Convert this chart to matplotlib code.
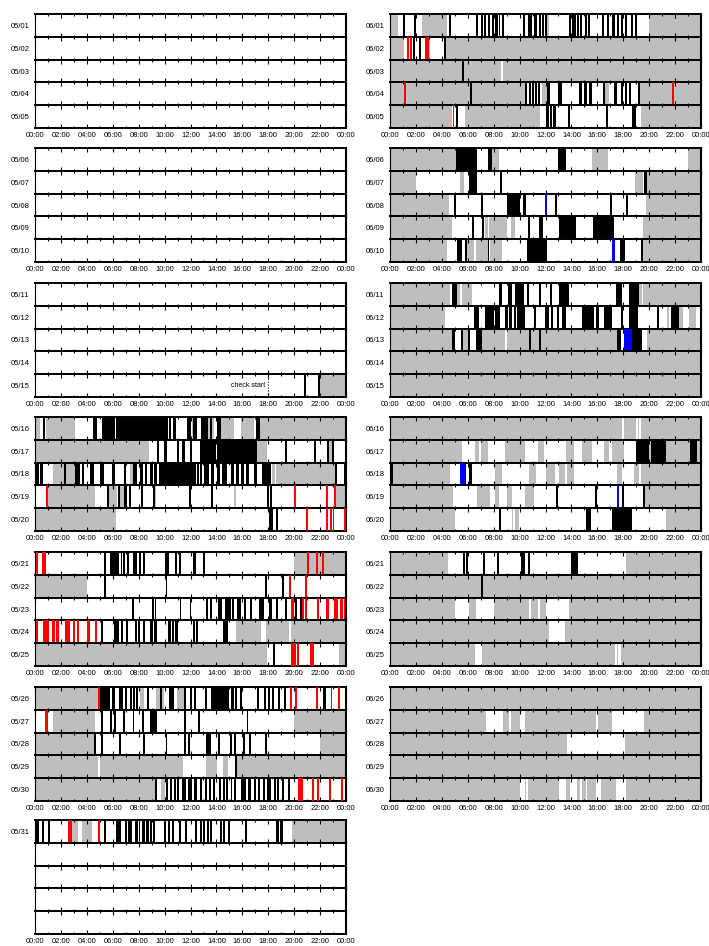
import matplotlib
matplotlib.use('Agg')
import matplotlib.pyplot as plt
from matplotlib.ticker import MultipleLocator, FuncFormatter

plt.rcParams['font.family'] = ['Liberation Sans', 'DejaVu Sans']

# each day: (start hour, end hour, code)  g=gray, w=white, k=black, r=red, b=blue
d0515 = [(21.95, 24, 'g'), (20.8, 20.8, 'k'), (21.95, 21.95, 'k')]
d0516 = [(0.08, 0.4, 'g'), (0.83, 3.1, 'g'), (12.15, 12.4, 'g'), (13.3, 13.8, 'g'), (14.3, 15.35, 'g'),
         (15.9, 16.9, 'g'), (17.35, 24, 'g'),
         (0.6, 0.75, 'k'), (4.5, 4.75, 'k'), (5.16, 6.2, 'k'), (6.28, 10.1, 'k'), (10.2, 10.2, 'k'),
         (10.45, 10.45, 'k'), (10.65, 10.85, 'k'), (11.75, 12.0, 'k'), (12.2, 12.5, 'k'), (12.8, 13.35, 'k'),
         (13.6, 13.6, 'k'), (14.05, 14.35, 'k'), (17.05, 17.35, 'k')]
d0517 = [(0, 8.77, 'g'), (17.16, 17.94, 'g'), (22.7, 22.9, 'g'),
         (9.42, 9.55, 'k'), (9.93, 10.2, 'k'), (10.97, 11.1, 'k'), (11.35, 11.6, 'k'), (12.0, 12.13, 'k'),
         (12.77, 13.94, 'k'), (14.06, 17.16, 'k'), (19.28, 19.43, 'k'), (21.55, 21.68, 'k'),
         (22.58, 22.7, 'k'), (22.9, 23.1, 'k')]
d0518 = [(1.42, 2.2, 'g'), (2.4, 3.1, 'g'), (7.35, 7.6, 'g'), (18.3, 18.5, 'g'), (18.58, 23.17, 'g'),
         (0.08, 0.34, 'k'), (0.4, 0.6, 'k'), (2.25, 2.4, 'k'), (3.1, 3.48, 'k'), (3.6, 3.74, 'k'),
         (4.26, 4.57, 'k'), (5.03, 5.29, 'k'), (5.94, 6.2, 'k'), (6.9, 7.0, 'k'), (7.6, 7.87, 'k'),
         (8.1, 8.3, 'k'), (8.5, 8.6, 'k'), (8.9, 9.1, 'k'), (9.2, 9.4, 'k'), (9.55, 9.8, 'k'), (9.8, 12.4, 'k'),
         (12.55, 12.55, 'k'), (12.7, 12.9, 'k'), (13.08, 13.4, 'k'), (13.55, 13.8, 'k'), (14.06, 14.3, 'k'),
         (14.45, 14.5, 'k'), (14.6, 14.84, 'k'), (15.1, 15.35, 'k'), (15.48, 15.74, 'k'), (15.87, 16.1, 'k'),
         (16.3, 16.55, 'k'), (16.9, 17.16, 'k'), (17.55, 18.2, 'k'), (23.17, 23.25, 'k'), (23.85, 23.95, 'k')]
d0519 = [(0.95, 4.6, 'g'), (5.7, 6.3, 'g'), (6.58, 6.9, 'g'), (9.2, 9.3, 'g'), (15.35, 15.48, 'g'), (23.23, 24, 'g'),
         (0.85, 0.95, 'r'), (5.55, 5.68, 'k'), (6.4, 6.58, 'k'), (6.9, 7.1, 'k'), (7.3, 7.3, 'k'),
         (8.26, 8.26, 'k'), (9.1, 9.2, 'k'), (11.95, 11.95, 'k'), (13.68, 13.68, 'k'), (17.94, 18.06, 'k'),
         (18.2, 18.2, 'k'), (20.0, 20.1, 'r'), (22.45, 22.63, 'r'), (23.1, 23.23, 'r')]
d0520 = [(0, 6.27, 'g'), (18.06, 18.4, 'k'), (18.58, 18.7, 'k'), (20.9, 21.03, 'r'), (22.45, 22.63, 'r'),
         (22.75, 22.88, 'r'), (22.97, 23.1, 'r'), (23.9, 24, 'r')]
d0521 = [(20, 24, 'g'), (0.08, 0.26, 'r'), (0.52, 0.85, 'r'), (5.29, 5.5, 'k'), (5.8, 6.45, 'k'),
         (6.6, 6.75, 'k'), (6.85, 6.95, 'k'), (7.1, 7.23, 'k'), (7.6, 7.87, 'k'), (8.07, 8.07, 'k'),
         (8.33, 8.43, 'k'), (10.06, 10.32, 'k'), (10.84, 10.97, 'k'), (11.1, 11.23, 'k'), (12.2, 12.4, 'k'),
         (13.03, 13.03, 'k'), (21.03, 21.16, 'r'), (21.68, 21.8, 'r'), (22.2, 22.32, 'r')]
d0522 = [(0, 4.05, 'g'), (5.42, 5.42, 'k'), (10.1, 10.2, 'k'), (17.76, 17.86, 'k'), (19.17, 19.17, 'k'),
         (19.7, 19.7, 'r'), (20.83, 20.93, 'r')]
d0523 = [(7.56, 7.56, 'k'), (9.1, 9.1, 'k'), (9.3, 9.3, 'k'), (11.23, 11.23, 'k'), (12.0, 12.0, 'k'),
         (13.3, 13.3, 'k'), (13.55, 13.55, 'k'), (14.2, 14.2, 'k'), (14.32, 14.32, 'k'), (14.7, 15.1, 'k'),
         (15.23, 15.35, 'k'), (15.65, 15.65, 'k'), (15.8, 15.8, 'k'), (16.13, 16.26, 'k'), (16.6, 16.7, 'k'),
         (17.3, 17.68, 'k'), (18.06, 18.32, 'k'), (18.7, 18.7, 'k'), (19.35, 19.35, 'k'), (19.74, 20.0, 'r'),
         (20.13, 20.13, 'k'), (20.5, 20.5, 'k'), (20.65, 20.77, 'r'), (20.9, 20.97, 'r'), (21.75, 21.94, 'r'),
         (22.45, 22.7, 'r'), (23.1, 23.35, 'r'), (23.5, 23.74, 'r'), (23.82, 23.95, 'r')]
d0524 = [(15.48, 17.42, 'g'), (17.8, 19.6, 'g'), (19.74, 24, 'g'),
         (0.08, 0.26, 'r'), (0.6, 1.1, 'r'), (1.3, 1.55, 'r'), (1.63, 1.88, 'r'), (2.32, 2.7, 'r'),
         (2.9, 3.1, 'r'), (3.22, 3.43, 'r'), (4.05, 4.26, 'r'), (4.64, 4.77, 'r'), (5.16, 5.16, 'k'),
         (6.06, 6.45, 'k'), (6.7, 6.7, 'k'), (7.05, 7.15, 'k'), (7.74, 7.87, 'k'), (7.95, 8.05, 'k'),
         (8.33, 8.52, 'k'), (8.9, 9.1, 'k'), (9.2, 9.42, 'k'), (10.24, 10.5, 'k'), (10.6, 10.7, 'k'),
         (10.84, 11.0, 'k'), (12.2, 12.3, 'k'), (12.5, 12.5, 'k'), (14.53, 14.9, 'k')]
d0525 = [(0, 17.94, 'g'), (23.48, 24, 'g'), (18.4, 18.5, 'k'), (19.74, 20.13, 'r'), (20.2, 20.4, 'r'),
         (21.24, 21.55, 'r')]
d0526 = [(0, 4.9, 'g'), (8.1, 8.4, 'g'), (9.3, 9.68, 'g'), (9.8, 9.93, 'g'), (10.97, 11.48, 'g'),
         (4.9, 5.03, 'r'), (5.03, 5.8, 'k'), (5.94, 6.2, 'k'), (6.45, 6.6, 'k'), (6.7, 6.8, 'k'), (6.95, 7.05, 'k'),
         (7.35, 7.48, 'k'), (7.6, 7.74, 'k'), (7.87, 7.87, 'k'), (8.65, 8.77, 'k'), (9.68, 9.8, 'k'),
         (10.32, 10.7, 'k'), (11.48, 11.6, 'k'), (12.0, 12.13, 'k'), (12.26, 12.4, 'k'), (13.16, 13.3, 'k'),
         (13.55, 14.97, 'k'), (15.1, 15.35, 'k'), (15.48, 15.6, 'k'), (15.92, 15.92, 'k'), (17.16, 17.3, 'k'),
         (17.68, 17.8, 'k'), (18.06, 18.06, 'k'), (18.32, 18.45, 'k'), (18.84, 18.84, 'k'), (19.23, 19.35, 'k'),
         (19.7, 19.8, 'r'), (20.13, 20.13, 'r'), (21.68, 21.8, 'r'), (22.2, 22.45, 'k'), (22.84, 22.92, 'r'),
         (23.4, 23.5, 'r')]
d0527 = [(1.42, 4.6, 'g'), (20, 24, 'g'), (0.77, 0.98, 'r'), (5.16, 5.16, 'k'), (5.8, 5.94, 'k'),
         (6.2, 6.2, 'k'), (6.84, 6.84, 'k'), (7.6, 7.6, 'k'), (8.33, 8.33, 'k'), (8.9, 9.42, 'k'),
         (11.6, 11.6, 'k'), (12.65, 12.65, 'k'), (16.4, 16.4, 'k')]
d0528 = [(0, 4.6, 'g'), (22, 24, 'g'), (4.6, 4.6, 'k'), (5.16, 5.16, 'k'), (6.58, 6.58, 'k'), (8.39, 8.39, 'k'),
         (10.1, 10.2, 'k'), (11.6, 11.6, 'k'), (11.87, 11.87, 'k'), (13.16, 13.42, 'k'), (13.5, 13.5, 'k'),
         (14.2, 14.2, 'k'), (15.05, 15.23, 'k'), (15.35, 15.48, 'k'), (16.13, 16.2, 'k'), (16.52, 16.6, 'k'),
         (17.8, 17.88, 'k')]
d0529 = [(0, 11.43, 'g'), (13.16, 14.06, 'g'), (14.53, 14.92, 'g'), (15.5, 24, 'g'), (4.95, 4.95, 'w'),
         (15.48, 15.48, 'k')]
d0530 = [(0, 9.24, 'g'), (9.75, 10.06, 'g'), (9.24, 9.42, 'k'), (10.2, 10.2, 'k'), (10.4, 10.55, 'k'),
         (10.7, 10.84, 'k'), (10.97, 11.1, 'k'), (11.35, 11.48, 'k'), (11.61, 11.61, 'k'), (11.8, 11.9, 'k'),
         (12.0, 12.13, 'k'), (12.3, 12.5, 'k'), (12.77, 12.9, 'k'), (13.16, 13.16, 'k'), (13.42, 13.55, 'k'),
         (13.8, 13.8, 'k'), (14.2, 14.32, 'k'), (14.53, 14.58, 'k'), (14.84, 14.84, 'k'), (15.1, 15.23, 'k'),
         (15.35, 15.48, 'k'), (15.87, 16.26, 'k'), (16.4, 16.65, 'k'), (16.9, 17.03, 'k'), (17.3, 17.3, 'k'),
         (17.68, 17.68, 'k'), (17.94, 18.2, 'k'), (18.45, 18.58, 'k'), (18.7, 18.84, 'k'), (19.1, 19.23, 'k'),
         (19.6, 19.6, 'k'), (20.3, 20.65, 'r'), (21.42, 21.42, 'r'), (21.8, 21.94, 'r'), (22.76, 22.84, 'r'),
         (23.66, 23.66, 'r')]
d0531 = [(2.84, 3.35, 'g'), (3.6, 4.4, 'g'), (19.82, 24, 'g'),
         (0.08, 0.34, 'k'), (0.52, 0.65, 'k'), (1.03, 1.16, 'k'), (2.58, 2.84, 'r'), (4.9, 5.03, 'r'),
         (5.29, 5.5, 'k'), (6.27, 6.53, 'k'), (6.6, 6.6, 'k'), (6.97, 7.1, 'k'), (7.23, 7.23, 'k'),
         (7.35, 7.48, 'k'), (7.74, 7.92, 'k'), (8.0, 8.13, 'k'), (8.26, 8.52, 'k'), (8.6, 8.77, 'k'),
         (8.85, 9.03, 'k'), (9.1, 9.24, 'k'), (9.98, 10.1, 'k'), (10.32, 10.32, 'k'), (10.63, 10.63, 'k'),
         (11.1, 11.23, 'k'), (11.6, 11.74, 'k'), (12.4, 12.5, 'k'), (12.7, 12.9, 'k'), (13.03, 13.08, 'k'),
         (13.24, 13.42, 'k'), (13.55, 13.55, 'k'), (14.32, 14.45, 'k'), (14.58, 14.58, 'k'), (14.97, 14.97, 'k'),
         (16.26, 16.26, 'k'), (18.58, 18.84, 'k'), (18.92, 19.1, 'k')]

d0601 = [(0, 0.6, 'g'), (2.45, 4.4, 'g'), (12.13, 12.25, 'g'), (20, 24, 'g'),
         (1.08, 1.08, 'k'), (1.85, 1.95, 'k'), (4.6, 4.6, 'k'), (6.7, 6.8, 'k'), (7.05, 7.2, 'k'), (7.3, 7.4, 'k'),
         (7.55, 7.75, 'k'), (7.9, 8.0, 'k'), (8.13, 8.33, 'k'), (8.45, 8.45, 'k'), (8.65, 8.8, 'k'),
         (10.3, 10.45, 'k'), (10.65, 10.97, 'k'), (11.1, 11.35, 'k'), (11.5, 11.6, 'k'), (11.75, 11.87, 'k'),
         (12.0, 12.13, 'k'), (13.8, 14.0, 'k'), (14.06, 14.32, 'k'), (14.45, 14.58, 'k'), (14.7, 14.85, 'k'),
         (15.1, 15.2, 'k'), (15.35, 15.35, 'k'), (16.4, 16.5, 'k'), (16.85, 16.85, 'k'), (17.15, 17.35, 'k'),
         (17.55, 17.65, 'k'), (17.8, 17.95, 'k'), (18.14, 18.32, 'k'), (18.6, 18.7, 'k'), (19.0, 19.0, 'k')]
d0602 = [(0, 1.1, 'g'), (3.0, 3.1, 'g'), (4.3, 24, 'g'), (1.3, 1.42, 'r'), (1.55, 1.68, 'r'), (1.8, 1.9, 'k'),
         (2.3, 2.3, 'k'), (2.7, 2.8, 'r'), (2.85, 2.95, 'r'), (4.2, 4.3, 'k')]
d0603 = [(0, 24, 'g'), (5.6, 5.6, 'k'), (8.65, 8.65, 'w')]
d0604 = [(0, 10.45, 'g'), (11.75, 12.1, 'g'), (16.6, 16.9, 'g'), (19.2, 24, 'g'), (1.1, 1.2, 'r'),
         (6.27, 6.27, 'k'), (10.45, 10.6, 'k'), (10.7, 10.85, 'k'), (10.95, 11.1, 'k'), (11.2, 11.3, 'k'),
         (11.45, 11.6, 'k'), (12.1, 12.35, 'k'), (13.0, 13.3, 'k'), (14.6, 14.85, 'k'), (14.97, 15.23, 'k'),
         (15.35, 15.6, 'k'), (16.4, 16.6, 'k'), (17.3, 17.55, 'k'), (17.8, 17.94, 'k'), (18.14, 18.32, 'k'),
         (18.45, 18.6, 'k'), (19.2, 19.2, 'k'), (21.85, 21.85, 'r')]
d0605 = [(0, 4.77, 'g'), (5.75, 11.6, 'g'), (19.35, 24, 'g'), (4.9, 4.9, 'r'), (5.15, 5.15, 'k'),
         (12.0, 12.25, 'k'), (12.35, 12.5, 'k'), (12.6, 12.8, 'k'), (13.8, 13.8, 'k'), (16.65, 16.8, 'k'),
         (18.7, 18.95, 'k')]
d0606 = [(0, 5.1, 'g'), (7.87, 8.4, 'g'), (15.6, 16.8, 'g'), (22.97, 24, 'g'), (5.1, 6.7, 'k'),
         (7.53, 7.87, 'k'), (13.0, 13.55, 'k')]
d0607 = [(0, 2.0, 'g'), (5.4, 5.73, 'g'), (18.9, 19.5, 'g'), (19.87, 24, 'g'), (6.06, 6.7, 'k'),
         (8.6, 8.6, 'k'), (19.6, 19.85, 'k')]
d0608 = [(0, 4.57, 'g'), (19.75, 24, 'g'), (5.03, 5.03, 'k'), (7.1, 7.1, 'k'), (9.03, 10.0, 'k'),
         (10.3, 10.5, 'k'), (12.0, 12.13, 'b'), (12.78, 12.78, 'k'), (17.03, 17.03, 'k'), (18.3, 18.3, 'k')]
d0609 = [(0, 4.77, 'g'), (7.3, 9.0, 'g'), (9.3, 9.68, 'g'), (19.53, 24, 'g'), (7.6, 7.6, 'w'),
         (6.37, 6.37, 'k'), (7.15, 7.15, 'k'), (10.76, 10.76, 'k'), (11.56, 11.56, 'k'), (11.75, 11.75, 'k'),
         (13.03, 14.37, 'k'), (15.66, 17.3, 'k')]
d0610 = [(0, 4.4, 'g'), (5.95, 7.6, 'g'), (7.75, 8.65, 'g'), (19.53, 24, 'g'), (6.55, 6.55, 'w'),
         (5.16, 5.55, 'k'), (5.9, 5.9, 'k'), (7.6, 7.6, 'k'), (10.58, 12.13, 'k'), (17.15, 17.35, 'b'),
         (17.73, 18.15, 'k'), (19.43, 19.43, 'k')]
d0611 = [(0, 4.6, 'g'), (5.16, 5.4, 'g'), (5.55, 6.32, 'g'), (19.23, 19.48, 'g'), (19.55, 24, 'g'),
         (4.77, 5.16, 'k'), (8.4, 8.65, 'k'), (9.1, 9.42, 'k'), (9.62, 10.32, 'k'), (10.58, 10.7, 'k'),
         (11.48, 11.6, 'k'), (12.33, 12.5, 'k'), (13.08, 13.8, 'k'), (17.42, 17.94, 'k'), (18.45, 19.23, 'k')]
d0612 = [(0, 4.26, 'g'), (21.42, 21.55, 'g'), (22.32, 22.58, 'g'), (23.1, 23.6, 'g'),
         (6.45, 6.84, 'k'), (7.3, 8.0, 'k'), (8.13, 8.5, 'k'), (8.9, 9.1, 'k'), (9.2, 9.42, 'k'), (9.55, 9.68, 'k'),
         (9.8, 10.45, 'k'), (11.1, 11.23, 'k'), (11.95, 12.26, 'k'), (12.5, 12.5, 'k'), (12.9, 13.08, 'k'),
         (13.3, 13.55, 'k'), (14.84, 15.74, 'k'), (15.87, 16.13, 'k'), (16.52, 17.16, 'k'), (17.8, 17.94, 'k'),
         (18.45, 19.1, 'k'), (20.65, 20.77, 'k'), (21.68, 22.32, 'k')]
d0613 = [(0, 4.77, 'g'), (5.6, 6.19, 'g'), (7.1, 17.55, 'g'), (19.87, 24, 'g'), (8.92, 8.92, 'w'),
         (4.77, 5.03, 'k'), (5.55, 5.55, 'k'), (6.06, 6.19, 'k'), (6.7, 6.7, 'k'), (6.88, 6.88, 'k'),
         (7.05, 7.05, 'k'), (10.84, 10.84, 'k'), (11.61, 11.61, 'k'), (17.55, 17.8, 'k'), (18.06, 18.7, 'b'),
         (18.7, 19.48, 'k')]
d0614 = [(0, 24, 'g')]
d0615 = [(0, 24, 'g')]
d0616 = [(0, 24, 'g'), (17.94, 18.06, 'w'), (18.95, 19.15, 'w'), (19.22, 19.35, 'w')]
d0617 = [(0, 5.55, 'g'), (6.53, 6.9, 'g'), (7.0, 7.6, 'g'), (8.9, 10.4, 'g'), (11.43, 11.87, 'g'),
         (13.55, 14.2, 'g'), (14.84, 15.6, 'g'), (16.52, 16.9, 'g'), (17.16, 18.06, 'g'), (20.0, 20.13, 'g'),
         (21.3, 24, 'g'), (18.97, 20.0, 'k'), (20.13, 21.3, 'k'), (23.17, 23.66, 'k')]
d0618 = [(0.26, 4.6, 'g'), (8.13, 8.65, 'g'), (10.7, 11.23, 'g'), (12.05, 12.77, 'g'), (13.03, 13.5, 'g'),
         (13.68, 14.2, 'g'), (17.55, 17.94, 'g'), (18.84, 19.23, 'g'), (19.35, 24, 'g'), (0, 0.26, 'k'),
         (5.42, 5.75, 'b'), (5.8, 5.8, 'k'), (6.06, 6.32, 'k')]
d0619 = [(0, 4.9, 'g'), (6.7, 7.74, 'g'), (8.13, 8.4, 'g'), (9.03, 9.42, 'g'), (10.45, 11.1, 'g'),
         (19.68, 24, 'g'), (12.9, 12.9, 'k'), (15.92, 15.92, 'k'), (17.55, 17.6, 'b'), (17.94, 18.06, 'k'),
         (19.6, 19.6, 'k')]
d0620 = [(0, 4.98, 'g'), (9.42, 9.93, 'g'), (21.3, 24, 'g'), (9.6, 9.6, 'w'), (8.52, 8.52, 'k'),
         (15.1, 15.48, 'k'), (17.16, 18.7, 'k')]
d0621 = [(0, 4.46, 'g'), (18.25, 24, 'g'), (5.68, 5.68, 'k'), (5.94, 5.94, 'k'), (7.15, 7.3, 'k'),
         (8.33, 8.33, 'k'), (10.1, 10.45, 'k'), (10.7, 10.7, 'k'), (14.0, 14.53, 'k')]
d0622 = [(0, 24, 'g'), (7.05, 7.17, 'k')]
d0623 = [(0, 5.03, 'g'), (6.1, 6.63, 'g'), (8.0, 10.7, 'g'), (10.9, 11.43, 'g'), (11.6, 12.0, 'g'),
         (13.8, 24, 'g')]
d0624 = [(0, 12.3, 'g'), (13.47, 24, 'g')]
d0625 = [(0, 6.58, 'g'), (7.1, 24, 'g'), (17.4, 17.5, 'w'), (17.6, 17.8, 'w')]
d0626 = [(0, 24, 'g')]
d0627 = [(0, 7.43, 'g'), (8.72, 10.06, 'g'), (10.45, 15.87, 'g'), (16.05, 17.1, 'g'), (19.6, 24, 'g'),
         (9.25, 9.25, 'w')]
d0628 = [(0, 13.63, 'g'), (18.14, 24, 'g')]
d0629 = [(0, 24, 'g')]
d0630 = [(0, 10.0, 'g'), (10.4, 13.08, 'g'), (13.6, 13.88, 'g'), (14.4, 15.1, 'g'), (15.2, 15.92, 'g'),
         (16.26, 17.42, 'g'), (18.25, 24, 'g'), (10.6, 10.6, 'w'), (14.75, 14.75, 'w')]

empty = []
may_labels = ['05/%02d' % d for d in range(1, 32)]
jun_labels = ['06/%02d' % d for d in range(1, 31)]
may_days = [empty] * 14 + [d0515, d0516, d0517, d0518, d0519, d0520, d0521, d0522, d0523, d0524,
                            d0525, d0526, d0527, d0528, d0529, d0530, d0531]
jun_days = [d0601, d0602, d0603, d0604, d0605, d0606, d0607, d0608, d0609, d0610,
            d0611, d0612, d0613, d0614, d0615, d0616, d0617, d0618, d0619, d0620,
            d0621, d0622, d0623, d0624, d0625, d0626, d0627, d0628, d0629, d0630]
check_start = 18.0

colors = {'g': '#bebebe', 'w': '#ffffff', 'k': '#000000', 'r': '#ff0000', 'b': '#0000ff'}
zorders = {'g': 1, 'w': 2, 'k': 3, 'r': 4, 'b': 5}
min_w = 0.15

W, H = 709, 946
fig = plt.figure(figsize=(W / 100, H / 100), dpi=100)
col_x = [35, 390]
ax_w = 311
tops = [14, 148, 283, 417, 552, 687, 820]
panel_h = 114
row_h = panel_h / 5


def draw_row(ax, segs):
    for s, e, c in segs:
        w = e - s
        if w < min_w:
            s -= (min_w - w) / 2
            w = min_w
        ax.broken_barh([(s, w)], (0, 1), facecolors=colors[c], edgecolor='none', zorder=zorders[c])


def make_row(col, panel, row, label, segs):
    y = tops[panel] + (row + 1) * row_h
    ax = fig.add_axes([col_x[col] / W, 1 - y / H, ax_w / W, row_h / H])
    ax.set_xlim(0, 24)
    ax.set_ylim(0, 1)
    ax.xaxis.set_major_locator(MultipleLocator(2))
    ax.xaxis.set_minor_locator(MultipleLocator(1))
    ax.xaxis.set_major_formatter(FuncFormatter(lambda v, p: '%02d:00' % (int(round(v)) % 24)))
    ax.tick_params(axis='x', which='both', direction='in', top=True, bottom=True,
                   labelbottom=(row == 4), labelsize=5.5, pad=3, width=0.8)
    ax.tick_params(axis='x', which='major', length=3)
    ax.tick_params(axis='x', which='minor', length=1.5)
    ax.set_yticks([0.5])
    ax.set_yticklabels([label])
    ax.tick_params(axis='y', length=0, pad=4, labelsize=5.5)
    ax.spines['left'].set_linewidth(0.8)
    ax.spines['right'].set_linewidth(1.5)
    ax.spines['top'].set_linewidth(1.4)
    ax.spines['bottom'].set_linewidth(1.4)
    draw_row(ax, segs)
    return ax


for i, (lab, segs) in enumerate(zip(may_labels, may_days)):
    ax = make_row(0, i // 5, i % 5, lab, segs)
    if lab == '05/15':
        ax.axvline(check_start, color='black', ls=':', lw=0.8, zorder=6)
        ax.text(check_start - 0.25, 0.5, 'check start', ha='right', va='center', fontsize=5)

# unused rows under 05/31
for r in range(1, 5):
    make_row(0, 6, r, '', [])

for i, (lab, segs) in enumerate(zip(jun_labels, jun_days)):
    make_row(1, i // 5, i % 5, lab, segs)

fig.savefig('out.png', dpi=100)
